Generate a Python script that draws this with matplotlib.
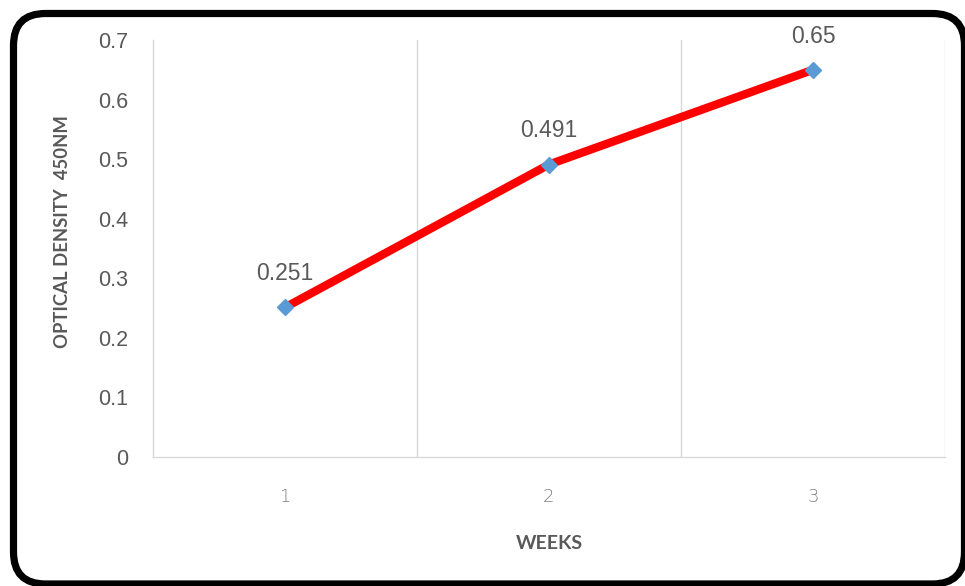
import matplotlib
matplotlib.use("Agg")
import matplotlib.pyplot as plt
from matplotlib.patches import FancyBboxPatch
from matplotlib.transforms import IdentityTransform

weeks = [1, 2, 3]
week_labels = ["1", "2", "3"]
optical_density = [0.251, 0.491, 0.65]
y_ticks = [0, 0.1, 0.2, 0.3, 0.4, 0.5, 0.6, 0.7]
y_tick_labels = ["0", "0.1", "0.2", "0.3", "0.4", "0.5", "0.6", "0.7"]

DPI = 100
fig = plt.figure(figsize=(9.65, 5.86), dpi=DPI)
fig.patch.set_facecolor("white")

ax = fig.add_axes([153 / 965, 1 - 457 / 586, (945 - 153) / 965, (457 - 40) / 586])
ax.set_facecolor("white")

grid_col = "#D9D9D9"
text_col = "#595959"

ax.plot(weeks, optical_density, color="#FF0000", linewidth=6.0,
        solid_capstyle="butt", zorder=3)
ax.plot(weeks, optical_density, linestyle="none", marker="D", markersize=8.5,
        markerfacecolor="#5B9BD5", markeredgecolor="#5B9BD5", zorder=4)

for x, y in zip(weeks, optical_density):
    ax.annotate(f"{y:g}", (x, y), xytext=(0, 16), textcoords="offset points",
                ha="center", va="bottom", fontsize=16.5, color=text_col,
                family="Liberation Sans")

ax.set_xlim(0.5, 3.5)
ax.set_ylim(0, 0.7)

# vertical separators between categories
for xb in [1.5, 2.5, 3.5]:
    ax.axvline(xb, color=grid_col, linewidth=1.0, zorder=1)

for side in ["top", "right"]:
    ax.spines[side].set_visible(False)
for side in ["left", "bottom"]:
    ax.spines[side].set_color(grid_col)
    ax.spines[side].set_linewidth(1.0)

ax.set_xticks(weeks)
ax.set_xticklabels(week_labels, fontsize=13, color="#7F7F7F",
                   family="DejaVu Sans", fontweight="light")
ax.set_yticks(y_ticks)
ax.set_yticklabels(y_tick_labels, fontsize=15.5, color=text_col,
                   family="Liberation Sans")
ax.tick_params(axis="x", length=0, pad=22)
ax.tick_params(axis="y", length=0, pad=18)

ax.set_xlabel("WEEKS", fontsize=14, color=text_col, fontweight="bold",
              family="Lato", labelpad=21)
ax.set_ylabel("OPTICAL DENSITY  450NM", fontsize=13.3, color=text_col,
              fontweight="bold", family="Lato")
ax.yaxis.set_label_coords(-0.104, 0.54)

# rounded outer frame, in pixel units
frame = FancyBboxPatch((13.5, 2.0), 951.0, 584 - 13.5,
                       boxstyle="round,pad=0,rounding_size=32",
                       transform=IdentityTransform(), facecolor="none",
                       edgecolor="black", linewidth=5.2, zorder=10)
fig.patches.append(frame)

fig.savefig("out.png", dpi=DPI, facecolor="white")
